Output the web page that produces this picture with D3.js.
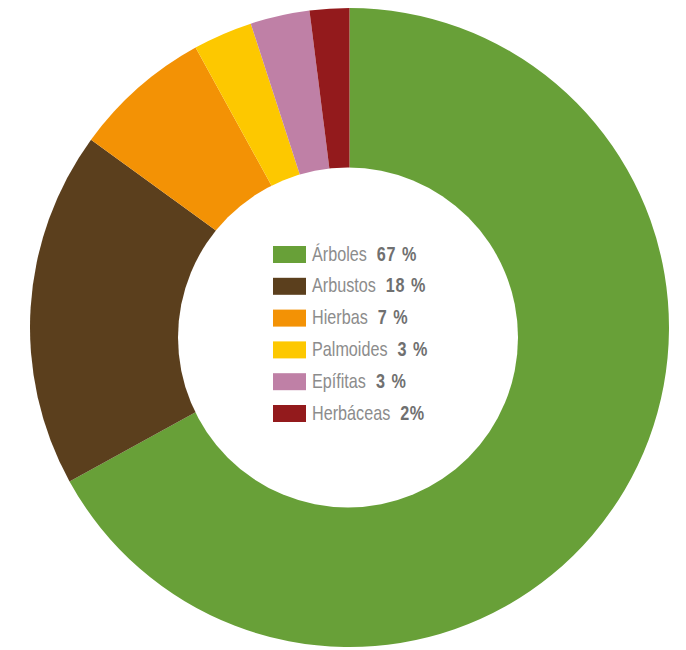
<!DOCTYPE html>
<html>
<head>
<meta charset="utf-8">
<script src="https://cdn.jsdelivr.net/npm/d3@7"></script>
<style>
  body { margin: 0; background: #fff; }
  svg { display: block; }
</style>
</head>
<body>
<div id="chart"></div>
<script>
// Data
const categories = ["Árboles", "Arbustos", "Hierbas", "Palmoides", "Epífitas", "Herbáceas"];
const values = [67, 18, 7, 3, 3, 2];
const valueLabels = ["67 %", "18 %", "7 %", "3 %", "3 %", "2%"];
const colors = ["#68a038", "#5b3f1d", "#f39205", "#fdc800", "#bf80a6", "#931a1c"];

const w = 686, h = 650;
const cx = 349.5, cy = 327.5;
const outerR = 319.5;
// the hole in the reference sits a bit lower than the ring's centre
const hole = { dx: -1.5, dy: 10, r: 170 };

let svg = d3.select("#chart").append("svg")
  .attr("width", w)
  .attr("height", h);

let data = categories.map((c, i) => ({ name: c, value: values[i], label: valueLabels[i], color: colors[i] }));

let pie = d3.pie().value(d => d.value).sort(null);
let arc = d3.arc().innerRadius(0).outerRadius(outerR);

let donut = svg.append("g").attr("id", "donut")
  .attr("transform", "translate(" + cx + "," + cy + ")");

donut.selectAll("path")
  .data(pie(data))
  .join("path")
  .attr("d", arc)
  .attr("fill", d => d.data.color);

donut.append("circle")
  .attr("cx", hole.dx)
  .attr("cy", hole.dy)
  .attr("r", hole.r)
  .attr("fill", "#fff");

// Legend in the hole
let rowY = d3.scaleLinear().domain([0, categories.length - 1]).range([254.5, 413.5]);
let legend = svg.append("g").attr("id", "legend");

let rows = legend.selectAll("g")
  .data(data)
  .join("g")
  .attr("transform", (d, i) => "translate(273," + rowY(i) + ")");

rows.append("rect")
  .attr("x", 0)
  .attr("y", -8.5)
  .attr("width", 33)
  .attr("height", 17)
  .attr("fill", d => d.color);

// condensed look: squash a regular sans horizontally
let txt = rows.append("text")
  .attr("transform", "translate(39,6) scale(0.83,1)")
  .attr("font-family", "'Liberation Sans', Arial, sans-serif")
  .attr("font-size", 19.5)
  .attr("fill", "#8c8c8c")
  .text(d => d.name);

txt.append("tspan")
  .attr("dx", 12)
  .attr("font-weight", "bold")
  .attr("fill", "#707070")
  .attr("letter-spacing", 0.8)
  .attr("word-spacing", 1)
  .text(d => d.label);
</script>
</body>
</html>
